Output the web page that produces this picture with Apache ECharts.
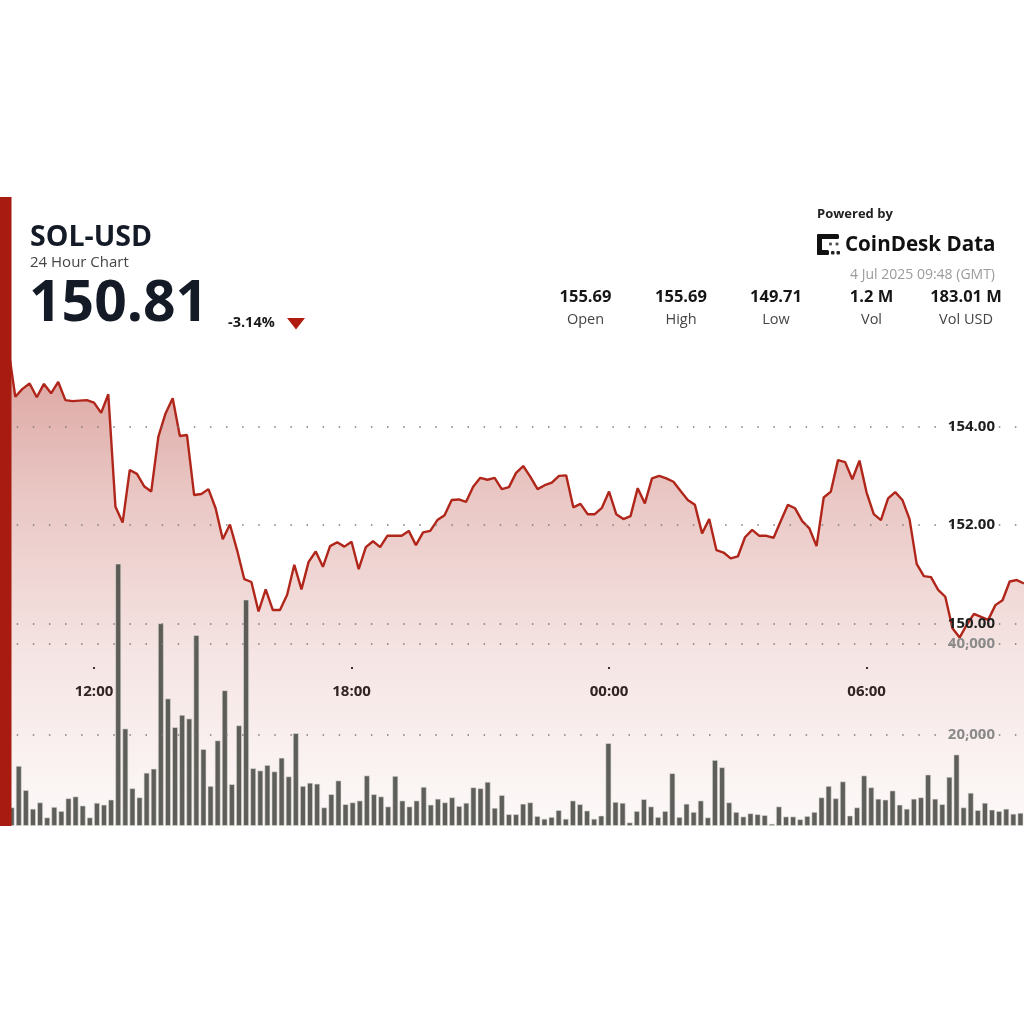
<!DOCTYPE html>
<html>
<head>
<meta charset="utf-8">
<script src="https://cdn.jsdelivr.net/npm/echarts@6/dist/echarts.min.js"></script>
<style>
  html, body { margin: 0; padding: 0; background: #ffffff; width: 1024px; height: 1024px; overflow: hidden; }
  #chart { position: absolute; left: 0; top: 0; width: 1024px; height: 826px; }
</style>
</head>
<body>
<div id="chart"></div>
<script>
// ---- data ----
const startMinutes = 9 * 60 + 50;           // first 10-minute slot, 09:50 (GMT)
const stepMinutes = 10;
const tickLabels = ['12:00', '18:00', '00:00', '06:00'];

const priceValues = [
  155.69, 155.62, 154.61, 154.77, 154.88, 154.60, 154.87, 154.68, 154.91, 154.54,
  154.52, 154.53, 154.54, 154.49, 154.28, 154.66, 152.37, 152.05, 153.12, 153.04,
  152.79, 152.68, 153.80, 154.27, 154.58, 153.81, 153.83, 152.61, 152.63, 152.73,
  152.34, 151.71, 152.01, 151.49, 150.90, 150.84, 150.24, 150.69, 150.27, 150.27,
  150.58, 151.19, 150.69, 151.25, 151.46, 151.15, 151.57, 151.65, 151.56, 151.66,
  151.10, 151.55, 151.67, 151.55, 151.78, 151.78, 151.78, 151.88, 151.59, 151.85,
  151.88, 152.10, 152.20, 152.51, 152.52, 152.47, 152.78, 152.96, 152.92, 152.96,
  152.73, 152.77, 153.06, 153.20, 152.98, 152.73, 152.81, 152.86, 153.00, 153.01,
  152.36, 152.43, 152.22, 152.22, 152.35, 152.68, 152.22, 152.12, 152.18, 152.75,
  152.44, 152.95, 153.00, 152.95, 152.88, 152.69, 152.51, 152.41, 151.83, 152.12,
  151.49, 151.44, 151.32, 151.36, 151.75, 151.90, 151.78, 151.78, 151.74, 152.08,
  152.41, 152.34, 152.08, 151.93, 151.57, 152.56, 152.68, 153.32, 153.28, 152.93,
  153.31, 152.66, 152.22, 152.10, 152.54, 152.67, 152.51, 152.12, 151.21, 150.96,
  150.94, 150.68, 150.54, 149.90, 149.71, 149.97, 150.19, 150.13, 150.07, 150.37,
  150.47, 150.85, 150.88, 150.81
];

const volumeValues = [
  5000, 4100, 13200, 7900, 3800, 5200, 1900, 4200, 3300, 6100,
  6500, 4500, 1900, 5100, 4700, 5800, 57600, 21400, 8300, 6300,
  11700, 12600, 44500, 28000, 21700, 24400, 23600, 41900, 16900, 8800,
  18800, 29800, 9200, 22100, 49700, 12700, 12200, 13400, 12000, 15000,
  10900, 20400, 8800, 9500, 9300, 4100, 7000, 10000, 4800, 5200,
  5600, 11100, 7000, 6500, 4300, 11000, 5600, 4300, 5600, 8600,
  4700, 6000, 5200, 6300, 4400, 5100, 8500, 8300, 9700, 4000,
  6800, 2600, 2600, 4900, 5200, 2200, 1600, 2000, 3500, 1600,
  5600, 4800, 3400, 1600, 2300, 18200, 5300, 5100, 800, 3300,
  5900, 4300, 2000, 3300, 11600, 2000, 4900, 3100, 5600, 1900,
  14500, 12900, 5200, 3100, 2100, 2800, 2600, 2400, 500, 4300,
  2100, 2100, 1500, 2200, 3100, 6300, 8800, 6100, 9800, 2300,
  4100, 11100, 8500, 6000, 5800, 7800, 4700, 3800, 6000, 6300,
  11300, 6000, 4800, 10800, 15700, 4100, 7300, 3500, 5100, 3600,
  3300, 3800, 2700, 2900
];

const priceTicks = { min: 150, max: 154, step: 2 };
const volumeTicks = { min: 0, max: 60000, step: 20000 };

const statValues = ['155.69', '155.69', '149.71', '1.2 M', '183.01 M'];
const statNames = ['Open', 'High', 'Low', 'Vol', 'Vol USD'];

// category labels (10-minute slots)
const timeCategories = [];
for (let i = 0; i < priceValues.length; i++) {
  const m = (startMinutes + i * stepMinutes) % 1440;
  const hh = String(Math.floor(m / 60)).padStart(2, '0');
  const mm = String(m % 60).padStart(2, '0');
  timeCategories.push(hh + ':' + mm);
}

// ---- layout helpers (pixel positions inside the 826px-tall chart box) ----
const FONT = '"Open Sans", "Noto Sans", sans-serif';
const H = 826;
const pxPerPrice = 49.15;
const y150 = 623.3;
const priceTopVal = 156;
const priceGridTop = y150 - (priceTopVal - 150) * pxPerPrice;
const priceBottomVal = 150 - (H - y150) / pxPerPrice;
const volZeroY = 833.7;
const pxPerVol = 4.685 / 1000;
const volGridTop = volZeroY - volumeTicks.max * pxPerVol;

const dotted = { color: '#7c7c7c', width: 1.5, type: [1.5, 14.6], dashOffset: 0.4 };
const isTick = (idx, val) => tickLabels.indexOf(val) !== -1;

const statX = [585.5, 681, 776, 871.5, 966];
const graphics = [
  { type: 'rect', z: 100, shape: { x: 0, y: 197, width: 11.5, height: H - 197 }, style: { fill: '#a81b10' } },
  { type: 'text', z: 100, x: 30, y: 238, style: { text: 'SOL-USD', fill: '#141b27', font: 'bold 28.5px ' + FONT, align: 'left', verticalAlign: 'middle' } },
  { type: 'text', z: 100, x: 30, y: 262.5, style: { text: '24 Hour Chart', fill: '#454545', font: '15px ' + FONT, align: 'left', verticalAlign: 'middle' } },
  { type: 'text', z: 100, x: 29, y: 305, style: { text: '150.81', fill: '#141b27', font: 'bold 57px ' + FONT, align: 'left', verticalAlign: 'middle' } },
  { type: 'text', z: 100, x: 228, y: 322.5, style: { text: '-3.14%', fill: '#1a1a1a', font: 'bold 14.5px ' + FONT, align: 'left', verticalAlign: 'middle' } },
  { type: 'polygon', z: 100, shape: { points: [[287, 318], [305, 318], [296, 329.5]] }, style: { fill: '#b01c10' } },
  { type: 'text', z: 100, x: 817, y: 214, style: { text: 'Powered by', fill: '#222222', font: 'bold 13px ' + FONT, align: 'left', verticalAlign: 'middle' } },
  { type: 'text', z: 100, x: 845, y: 245.5, style: { text: 'CoinDesk Data', fill: '#111111', font: 'bold 20.6px ' + FONT, align: 'left', verticalAlign: 'middle' } },
  { type: 'rect', z: 100, shape: { x: 817, y: 234, width: 22, height: 5, r: 1.5 }, style: { fill: '#111' } },
  { type: 'rect', z: 100, shape: { x: 817, y: 234, width: 5, height: 21, r: 1.5 }, style: { fill: '#111' } },
  { type: 'rect', z: 100, shape: { x: 817, y: 250, width: 12, height: 5, r: 1.5 }, style: { fill: '#111' } },
  { type: 'rect', z: 100, shape: { x: 831, y: 251, width: 3.5, height: 3.5, r: 1 }, style: { fill: '#222' } },
  { type: 'rect', z: 100, shape: { x: 836.5, y: 251, width: 3.5, height: 3.5, r: 1 }, style: { fill: '#222' } },
  { type: 'rect', z: 100, shape: { x: 829, y: 242.5, width: 3, height: 3, r: 1 }, style: { fill: '#555' } },
  { type: 'rect', z: 100, shape: { x: 835.5, y: 242.5, width: 3, height: 3, r: 1 }, style: { fill: '#555' } },
  { type: 'text', z: 100, x: 995, y: 275, style: { text: '4 Jul 2025 09:48 (GMT)', fill: '#9b9b9b', font: '14px ' + FONT, align: 'right', verticalAlign: 'middle' } }
];
statValues.forEach((v, i) => {
  graphics.push({ type: 'text', z: 100, x: statX[i], y: 297.5, style: { text: v, fill: '#161616', font: 'bold 16.5px ' + FONT, align: 'center', verticalAlign: 'middle' } });
  graphics.push({ type: 'text', z: 100, x: statX[i], y: 319.5, style: { text: statNames[i], fill: '#444444', font: '14.5px ' + FONT, align: 'center', verticalAlign: 'middle' } });
});

const chart = echarts.init(document.getElementById('chart'), null, { renderer: 'canvas' });
chart.setOption({
  animation: false,
  backgroundColor: '#ffffff',
  grid: [
    { left: 1, right: 0, top: priceGridTop, bottom: 0 },
    { left: 1, right: 0, top: 623.3 - (priceTicks.max - priceTicks.min) * pxPerPrice, bottom: H - y150 },
    { left: 1, right: 0, top: volGridTop, bottom: H - volZeroY }
  ],
  xAxis: [
    {
      type: 'category', gridIndex: 0, data: timeCategories, boundaryGap: false,
      position: 'bottom', offset: -(H - 667),
      axisLine: { show: false },
      axisTick: { show: true, length: 2, interval: isTick, lineStyle: { color: '#333', width: 2 } },
      axisLabel: { interval: isTick, margin: 17, color: '#222', fontSize: 15, fontWeight: 'bold', fontFamily: FONT },
      splitLine: { show: false }
    },
    { type: 'category', gridIndex: 1, data: timeCategories, boundaryGap: false, show: false },
    { type: 'category', gridIndex: 2, data: timeCategories, boundaryGap: true, show: false }
  ],
  yAxis: [
    { type: 'value', gridIndex: 0, min: priceBottomVal, max: priceTopVal, show: false, splitLine: { show: false } },
    {
      type: 'value', gridIndex: 1, min: priceTicks.min, max: priceTicks.max, interval: priceTicks.step,
      position: 'right', z: 10,
      axisLine: { show: false }, axisTick: { show: false },
      axisLabel: { inside: true, margin: 29, color: '#1e1e1e', fontSize: 15, fontWeight: 'bold', fontFamily: FONT,
        formatter: v => v.toFixed(2) },
      splitLine: { show: true, lineStyle: dotted }
    },
    {
      type: 'value', gridIndex: 2, min: volumeTicks.min, max: volumeTicks.max, interval: volumeTicks.step,
      position: 'right', z: 10,
      axisLine: { show: false }, axisTick: { show: false },
      axisLabel: { inside: true, margin: 29, color: '#8a8a8a', fontSize: 15, fontWeight: 'bold', fontFamily: FONT,
        showMinLabel: false, showMaxLabel: false,
        formatter: v => v.toLocaleString('en-US') },
      splitLine: { show: true, showMinLine: false, showMaxLine: false, lineStyle: dotted }
    }
  ],
  series: [
    {
      type: 'line', xAxisIndex: 0, yAxisIndex: 0, data: priceValues, z: 3,
      symbol: 'none', smooth: false,
      lineStyle: { color: '#b0261a', width: 2.4 },
      areaStyle: {
        color: new echarts.graphic.LinearGradient(0, 0, 0, 1, [
          { offset: 0, color: 'rgba(176,50,40,0.66)' },
          { offset: 0.3, color: 'rgba(176,50,40,0.40)' },
          { offset: 0.65, color: 'rgba(176,50,40,0.18)' },
          { offset: 1, color: 'rgba(176,50,40,0.04)' }
        ])
      }
    },
    {
      type: 'bar', xAxisIndex: 2, yAxisIndex: 2, data: volumeValues, z: 4,
      barWidth: 6,
      itemStyle: { color: 'rgba(66,68,62,0.85)', borderColor: 'rgba(225,222,218,0.65)', borderWidth: 0.9 }
    }
  ],
  graphic: graphics
});
</script>
</body>
</html>
